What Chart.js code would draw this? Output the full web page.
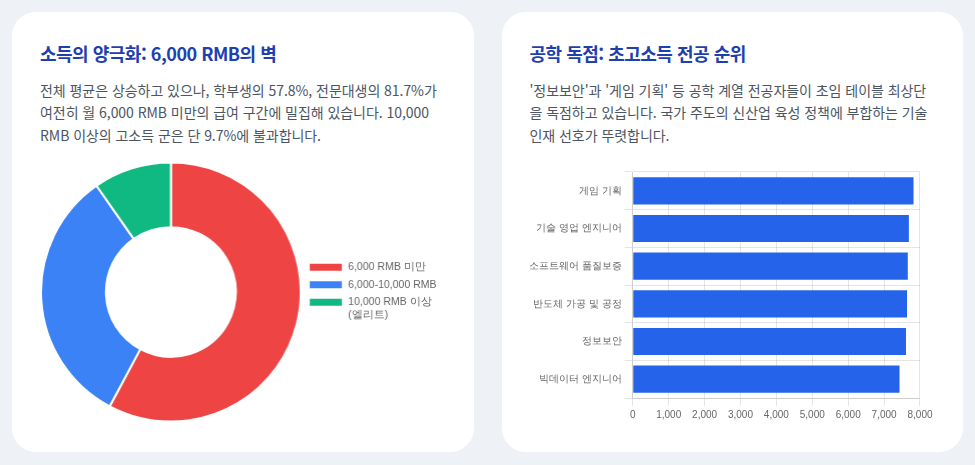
<!DOCTYPE html>
<html lang="ko">
<head>
<meta charset="utf-8">
<script src="https://cdn.jsdelivr.net/npm/chart.js@4.4.1/dist/chart.umd.min.js"></script>
<style>
    body {
        margin: 0;
        background: #eef2f7;
        font-family: "Noto Sans CJK KR", "Noto Sans", sans-serif;
    }
    .wrap {
        display: flex;
        gap: 28px;
        padding: 12px;
    }
    .card {
        width: 462px;
        height: 440px;
        box-sizing: border-box;
        padding: 28px;
        background: #fff;
        border-radius: 24px;
    }
    h2 {
        margin: 0;
        font-size: 18px;
        letter-spacing: -0.5px;
        line-height: 26.6px;
        font-weight: 700;
        color: #1e40af;
    }
    p {
        margin: 12px 0 0;
        font-size: 14px;
        letter-spacing: -0.05px;
        line-height: 22.5px;
        color: #4b5563;
    }
    .chart-box {
        position: relative;
        margin-top: 14px;
        height: 264px;
    }
</style>
</head>
<body>
<div class="wrap">
    <div class="card">
        <h2>소득의 양극화: 6,000 RMB의 벽</h2>
        <p>전체 평균은 상승하고 있으나, 학부생의 57.8%, 전문대생의 81.7%가 여전히 월 6,000 RMB 미만의 급여 구간에 밀집해 있습니다. 10,000 RMB 이상의 고소득 군은 단 9.7%에 불과합니다.</p>
        <div class="chart-box"><canvas id="incomeChart"></canvas></div>
    </div>
    <div class="card">
        <h2>공학 독점: 초고소득 전공 순위</h2>
        <p>'정보보안'과 '게임 기획' 등 공학 계열 전공자들이 초임 테이블 최상단을 독점하고 있습니다. 국가 주도의 신산업 육성 정책에 부합하는 기술 인재 선호가 뚜렷합니다.</p>
        <div class="chart-box"><canvas id="majorChart"></canvas></div>
    </div>
</div>
<script>
// 소득 구간 비중 (%)
const incomeLabels = ["6,000 RMB 미만", "6,000-10,000 RMB", ["10,000 RMB 이상", "(엘리트)"]];
const incomeShares = [57.8, 32.5, 9.7];
const incomeColors = ['#ef4444', '#3b82f6', '#10b981'];

// 전공별 평균 초임 (RMB)
const majorLabels = ["게임 기획", "기술 영업 엔지니어", "소프트웨어 품질보증", "반도체 가공 및 공정", "정보보안", "빅데이터 엔지니어"];
const majorSalaries = [7820, 7690, 7660, 7640, 7610, 7430];
const salaryTicks = [0, 1000, 2000, 3000, 4000, 5000, 6000, 7000, 8000];

new Chart(document.getElementById('incomeChart'), {
    type: 'doughnut',
    data: {
        labels: incomeLabels,
        datasets: [{
            data: incomeShares,
            backgroundColor: incomeColors,
            borderColor: '#fff',
            borderWidth: 2
        }]
    },
    options: {
        animation: false,
        maintainAspectRatio: false,
        cutout: '50%',
        plugins: {
            legend: {
                position: 'right',
                labels: {
                    boxWidth: 34,
                    boxHeight: 9,
                    padding: 7,
                    font: { size: 10.5 }
                }
            },
            tooltip: { enabled: false }
        }
    }
});

new Chart(document.getElementById('majorChart'), {
    type: 'bar',
    data: {
        labels: majorLabels,
        datasets: [{
            data: majorSalaries,
            backgroundColor: '#2563eb'
        }]
    },
    options: {
        indexAxis: 'y',
        animation: false,
        maintainAspectRatio: false,
        layout: { padding: { top: 12, left: -4 } },
        plugins: {
            legend: { display: false },
            tooltip: { enabled: false }
        },
        scales: {
            x: {
                min: salaryTicks[0],
                max: salaryTicks[salaryTicks.length - 1],
                ticks: {
                    stepSize: salaryTicks[1] - salaryTicks[0],
                    font: { size: 10 }
                }
            },
            y: {
                ticks: { font: { size: 10 } }
            }
        }
    }
});
</script>
</body>
</html>
